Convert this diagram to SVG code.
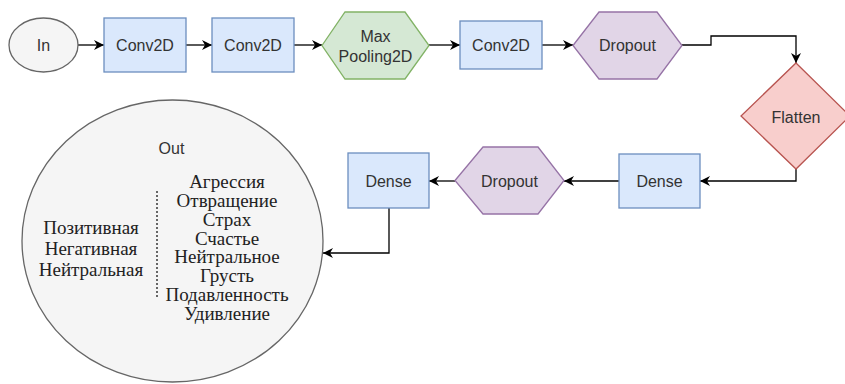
<svg xmlns="http://www.w3.org/2000/svg" width="845" height="384" viewBox="0 0 845 384">
  <style>
    .lbl { font-family: "Liberation Sans", Arial, sans-serif; font-size: 16px; fill: #333333; text-anchor: middle; dominant-baseline: central; }
    .ser { font-family: "Liberation Serif", "Times New Roman", serif; font-size: 19px; fill: #222222; text-anchor: middle; dominant-baseline: central; }
    .blue { fill: #dae8fc; stroke: #6c8ebf; stroke-width: 1.3; }
    .green { fill: #d5e8d4; stroke: #82b366; stroke-width: 1.3; }
    .purple { fill: #e1d5e7; stroke: #9673a6; stroke-width: 1.3; }
    .red { fill: #f8cecc; stroke: #b85450; stroke-width: 1.3; }
    .gray { fill: #f5f5f5; stroke: #666666; stroke-width: 1.3; }
    .edge { fill: none; stroke: #000000; stroke-width: 1.3; marker-end: url(#arrow); }
  </style>
  <defs>
    <marker id="arrow" markerUnits="userSpaceOnUse" markerWidth="12" markerHeight="12" refX="10" refY="5" orient="auto">
      <path d="M0,0 L10,5 L0,10 L3,5 Z" fill="#000000"/>
    </marker>
  </defs>
  <rect width="845" height="384" fill="#ffffff"/>

  <g id="connectors">
    <path class="edge" d="M78,45 H104"/>
    <path class="edge" d="M186,45 H212"/>
    <path class="edge" d="M294,45 H322"/>
    <path class="edge" d="M429,45 H460"/>
    <path class="edge" d="M542,45 H573"/>
    <path class="edge" d="M682,45 H711 V36 H796 V63"/>
    <path class="edge" d="M796,169 V181 H700"/>
    <path class="edge" d="M619,181 H564"/>
    <path class="edge" d="M455,181 H429"/>
    <path class="edge" d="M389,208 V253 H323"/>
  </g>

  <g id="in">
    <ellipse class="gray" cx="43.5" cy="45" rx="34.5" ry="27"/>
    <text class="lbl" x="43.5" y="45">In</text>
  </g>
  <g id="conv2d-1">
    <rect class="blue" x="104" y="18" width="82" height="54"/>
    <text class="lbl" x="145" y="45">Conv2D</text>
  </g>
  <g id="conv2d-2">
    <rect class="blue" x="212" y="18" width="82" height="54"/>
    <text class="lbl" x="253" y="45">Conv2D</text>
  </g>
  <g id="maxpooling2d">
    <polygon class="green" points="322,45.5 345,12 405,12 429,45.5 405,79 345,79"/>
    <text class="lbl" x="375.5" y="36">Max</text>
    <text class="lbl" x="375.5" y="56">Pooling2D</text>
  </g>
  <g id="conv2d-3">
    <rect class="blue" x="460" y="21" width="82" height="48"/>
    <text class="lbl" x="501" y="45">Conv2D</text>
  </g>
  <g id="dropout-1">
    <polygon class="purple" points="573,45.5 599,12 657,12 682,45.5 657,79 599,79"/>
    <text class="lbl" x="627.5" y="45">Dropout</text>
  </g>
  <g id="flatten">
    <polygon class="red" points="796,63 850,116 796,169 741,116"/>
    <text class="lbl" x="796" y="117">Flatten</text>
  </g>
  <g id="dense-1">
    <rect class="blue" x="619" y="154" width="81" height="54"/>
    <text class="lbl" x="659.5" y="181">Dense</text>
  </g>
  <g id="dropout-2">
    <polygon class="purple" points="455,180.5 483,147 538,147 564,180.5 538,214 483,214"/>
    <text class="lbl" x="509.5" y="181">Dropout</text>
  </g>
  <g id="dense-2">
    <rect class="blue" x="348" y="153" width="81" height="55"/>
    <text class="lbl" x="388.5" y="181">Dense</text>
  </g>

  <g id="out">
    <ellipse class="gray" cx="172.5" cy="241" rx="150.5" ry="141"/>
    <text class="lbl" x="171.5" y="148">Out</text>
    <line x1="157" y1="191" x2="157" y2="298" stroke="#666666" stroke-width="2" stroke-dasharray="2 2"/>
    <text class="ser" x="91" y="227">Позитивная</text>
    <text class="ser" x="91" y="248">Негативная</text>
    <text class="ser" x="91" y="269">Нейтральная</text>
    <text class="ser" x="227" y="181.7">Агрессия</text>
    <text class="ser" x="227" y="200.5">Отвращение</text>
    <text class="ser" x="227" y="219.2">Страх</text>
    <text class="ser" x="227" y="238">Счастье</text>
    <text class="ser" x="227" y="256.7">Нейтральное</text>
    <text class="ser" x="227" y="275.5">Грусть</text>
    <text class="ser" x="227" y="294.3">Подавленность</text>
    <text class="ser" x="227" y="313">Удивление</text>
  </g>
</svg>
